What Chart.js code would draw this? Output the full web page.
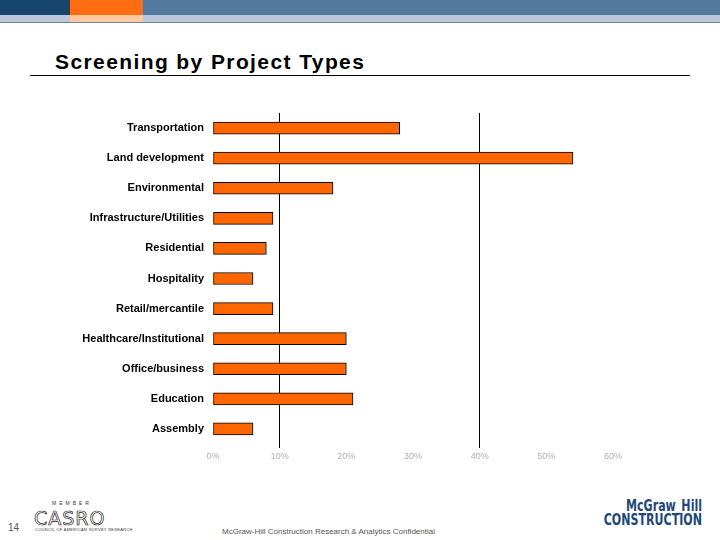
<!DOCTYPE html>
<html>
<head>
<meta charset="utf-8">
<script src="https://cdn.jsdelivr.net/npm/chart.js@4/dist/chart.umd.min.js"></script>
<style>
  body { margin: 0; width: 720px; height: 540px; position: relative; overflow: hidden; background: #fff; font-family: "Liberation Sans", Arial, sans-serif; }
  .bar { position: absolute; }
  #title { position: absolute; left: 55px; top: 50px; font-size: 21px; font-weight: bold; color: #000; letter-spacing: 1.4px; }
  #rule { position: absolute; left: 30px; top: 75px; width: 660px; height: 1px; background: #000; }
  #chartbox { position: absolute; left: 0; top: 100px; width: 720px; height: 380px; }
  .small { position: absolute; color: #555; }
</style>
</head>
<body>
<!-- header strips -->
<div class="bar" style="left:0;top:0;width:720px;height:15px;background:#527a9c"></div>
<div class="bar" style="left:0;top:0;width:70px;height:15px;background:#16466e"></div>
<div class="bar" style="left:70px;top:0;width:73px;height:15px;background:#ff6c12"></div>
<div class="bar" style="left:0;top:15px;width:720px;height:7px;background:#b7c9d8"></div>
<div class="bar" style="left:70px;top:15px;width:73px;height:7px;background:#ffc8a0"></div>
<div class="bar" style="left:0;top:22px;width:720px;height:1px;background:#6f8799"></div>

<div id="title">Screening by Project Types</div>
<div id="rule"></div>

<div id="chartbox"><canvas id="chart"></canvas></div>

<!-- footer -->
<div class="small" style="left:8px;top:522px;font-size:10px;">14</div>
<div class="small" style="left:52px;top:500px;font-size:5px;letter-spacing:3px;color:#333">MEMBER</div>
<div class="small" style="left:34px;top:507px;font-size:19px;color:#fff;-webkit-text-stroke:0.7px #222;letter-spacing:1px;font-family:'DejaVu Sans',sans-serif">CASRO</div>
<div class="small" style="left:35px;top:527px;font-size:4px;color:#333;letter-spacing:0.3px">COUNCIL OF AMERICAN SURVEY RESEARCH</div>
<div class="small" style="left:222px;top:527px;font-size:8px;color:#555">McGraw-Hill Construction Research &amp; Analytics Confidential</div>
<div class="small" style="left:560px;top:499px;width:142px;text-align:right;font-size:15px;line-height:14px;font-weight:bold;color:#1d4878;transform:scaleX(0.82);transform-origin:right top;font-family:'Liberation Sans Narrow','DejaVu Sans Condensed',sans-serif;">McGraw_Hill<br>CONSTRUCTION</div>

<script>
const categories = [
  "Transportation", "Land development", "Environmental", "Infrastructure/Utilities",
  "Residential", "Hospitality", "Retail/mercantile", "Healthcare/Institutional",
  "Office/business", "Education", "Assembly"
];
const screeningPct = [28, 54, 18, 9, 8, 6, 9, 20, 20, 21, 6];
const gridAt = [10, 40];

new Chart(document.getElementById("chart"), {
  type: "bar",
  data: {
    labels: categories,
    datasets: [{
      data: screeningPct,
      backgroundColor: "#ff6600",
      borderColor: "#000",
      borderWidth: 1,
      borderSkipped: false,
      barThickness: 12
    }]
  },
  options: {
    indexAxis: "y",
    responsive: true,
    maintainAspectRatio: false,
    animation: false,
    layout: { padding: { top: 13, right: 107, bottom: 0, left: 0 } },
    plugins: { legend: { display: false }, tooltip: { enabled: false } },
    scales: {
      x: {
        min: 0, max: 60,
        ticks: { stepSize: 10, callback: v => v + "%", color: "#b0b0b0", font: { size: 9, family: "Liberation Sans" }, padding: 3 },
        grid: {
          color: ctx => gridAt.includes(ctx.tick && ctx.tick.value) ? "#000" : "rgba(0,0,0,0)",
          lineWidth: 1,
          tickLength: 4
        },
        border: { display: false },
        afterFit: s => { s.height = 36; }
      },
      y: {
        ticks: { color: "#000", font: { size: 11, weight: "bold", family: "Liberation Sans" }, padding: 1 },
        grid: { display: false },
        border: { display: false },
        afterFit: s => { s.width = 213; }
      }
    }
  }
});
</script>
</body>
</html>
